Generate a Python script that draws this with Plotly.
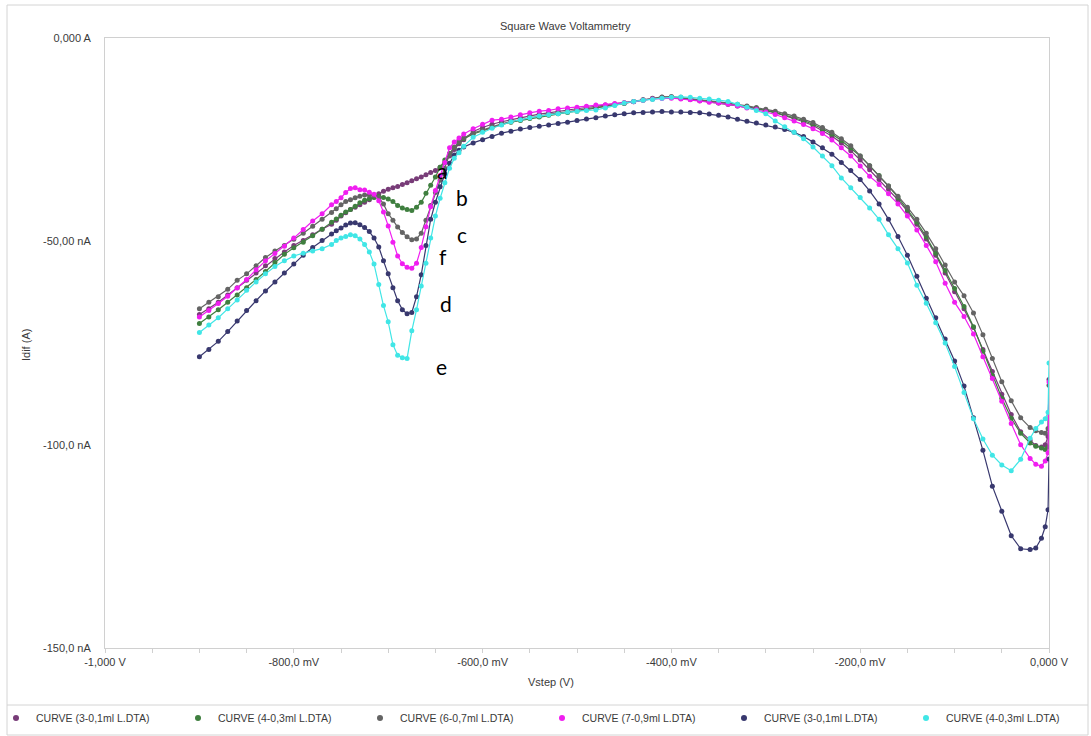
import plotly.graph_objects as go

# Potential steps (mV): coarse on the flanks, finer through the reduction peaks
V_MV = (list(range(-900, -760, 10)) + list(range(-760, -615, 5))
        + list(range(-610, -10, 10)) + [-14, -8, -4, -1, 0])

NAMES = ["CURVE (3-0,1ml L.DTA)", "CURVE (4-0,3ml L.DTA)", "CURVE (6-0,7ml L.DTA)",
         "CURVE (7-0,9ml L.DTA)", "CURVE (3-0,1ml L.DTA)", "CURVE (4-0,3ml L.DTA)"]
COLORS = ["#783c78", "#3f7f3f", "#646464", "#f01ef0", "#38386e", "#40e6e6"]
TAGS = ["a", "b", "c", "f", "d", "e"]

# Differential current (nA) for each curve
I_A = [-68.0, -66.6, -65.0, -63.2, -61.4, -59.6, -57.8, -56.0, -54.2, -52.6, -51.0, -49.8, -48.4, -47.0,
       -45.8, -44.8, -43.8, -43.0, -42.2, -41.6, -41.0, -40.4, -39.8, -39.1,
       -38.3, -37.7, -37.2, -36.8, -36.5, -36.0, -35.6, -35.1, -34.6, -34.2,
       -33.6, -33.1, -32.6, -31.8, -30.6, -29.0, -27.4, -26.0, -25.0,
       -23.0, -22.0, -21.2, -20.6, -20.1, -19.6, -19.1, -18.7, -18.4, -18.0,
       -17.7, -17.4, -17.1, -16.8, -16.5, -16.2, -15.9, -15.6, -15.2, -14.9,
       -14.6, -14.6, -14.8, -15.0, -15.3, -15.6, -15.9, -16.2, -16.5, -16.9,
       -17.3, -17.8, -18.4, -19.1, -19.8, -20.6, -21.5, -22.7, -24.1, -25.8,
       -27.7, -30.0, -32.4, -34.8, -37.2, -39.8, -42.6, -45.8, -49.4, -53.4,
       -57.8, -62.4, -66.6, -71.2, -76.6, -82.0, -87.6, -92.6, -96.8, -99.0,
       -100.2, -100.6, -100.0, -98.0, -84.0]

I_B = [-70.2, -68.6, -66.8, -65.0, -63.2, -61.4, -59.4, -57.4, -55.2, -53.2, -51.6, -50.2, -48.6, -47.0,
       -45.3, -44.5, -43.6, -42.8, -42.2, -41.4, -40.5, -39.9, -39.5, -39.2,
       -39.0, -39.2, -39.6, -40.2, -41.2, -41.8, -42.2, -42.4, -41.6, -40.4,
       -38.2, -36.2, -34.2, -31.8, -30.0, -28.4, -26.9, -25.7, -24.8,
       -23.6, -22.8, -22.0, -21.3, -20.7, -20.3, -19.8, -19.4, -19.0, -18.6,
       -18.3, -18.0, -17.6, -17.2, -16.9, -16.5, -16.1, -15.7, -15.3, -15.0,
       -14.7, -14.6, -14.8, -15.1, -15.4, -15.7, -16.0, -16.3, -16.7, -17.1,
       -17.4, -17.8, -18.3, -18.9, -19.6, -20.3, -21.2, -22.3, -23.6, -25.2,
       -27.0, -29.0, -31.4, -33.8, -36.4, -39.2, -42.2, -45.3, -48.9, -52.9,
       -57.2, -61.6, -66.0, -71.0, -77.0, -83.0, -88.6, -93.5, -97.2, -99.6,
       -100.4, -100.8, -101.2, -100.6, -92.0]

I_C = [-66.6, -65.0, -63.6, -61.8, -59.6, -58.0, -56.0, -54.0, -52.4, -51.0, -49.5, -48.0, -46.3, -44.6,
       -42.9, -42.0, -41.0, -40.2, -39.8, -39.3, -38.9, -38.6, -38.6, -38.8,
       -39.2, -40.8, -43.2, -44.8, -46.5, -47.8, -48.9, -49.6, -49.4, -48.0,
       -44.8, -41.2, -38.0, -35.0, -32.0, -28.6, -26.8, -25.6, -24.6,
       -23.4, -22.6, -21.8, -21.1, -20.6, -20.1, -19.6, -19.2, -18.8, -18.5,
       -18.1, -17.8, -17.4, -17.1, -16.8, -16.4, -16.0, -15.6, -15.2, -14.8,
       -14.5, -14.4, -14.6, -14.9, -15.2, -15.4, -15.7, -16.0, -16.3, -16.7,
       -17.1, -17.5, -18.0, -18.6, -19.2, -20.0, -20.8, -22.0, -23.2, -24.8,
       -26.5, -29.0, -31.4, -34.0, -36.4, -38.9, -41.6, -44.6, -48.0, -51.8,
       -55.8, -60.0, -63.4, -67.6, -73.0, -78.8, -84.5, -89.2, -93.4, -95.8,
       -96.6, -97.0, -97.2, -96.0, -85.4]

I_F = [-68.6, -67.0, -65.3, -63.5, -61.5, -59.4, -57.0, -54.8, -53.0, -51.2, -49.2, -47.1, -45.0, -43.2,
       -41.0, -40.2, -39.3, -38.0, -37.0, -36.8, -37.3, -37.4, -37.9, -38.4,
       -40.0, -42.8, -46.2, -50.2, -53.6, -55.5, -56.4, -56.6, -55.4, -51.5,
       -46.4, -41.5, -37.5, -33.8, -30.6, -27.0, -25.6, -24.6, -23.6,
       -22.3, -21.2, -20.2, -20.0, -19.4, -18.9, -18.4, -18.0, -17.8, -17.4,
       -17.2, -17.0, -16.8, -16.5, -16.4, -16.1, -15.9, -15.7, -15.3, -15.0,
       -14.9, -14.8, -15.0, -15.2, -15.5, -15.8, -16.0, -16.3, -16.7, -17.2,
       -17.6, -18.2, -18.8, -19.6, -20.4, -21.3, -22.3, -23.5, -25.1, -27.0,
       -29.0, -31.5, -34.0, -36.0, -38.3, -40.8, -43.8, -47.2, -51.0, -55.0,
       -60.3, -65.0, -68.5, -72.8, -78.4, -83.7, -89.3, -94.8, -100.0, -103.4,
       -104.8, -105.3, -104.0, -102.0, -84.6]

I_D = [-78.4, -76.6, -74.6, -72.2, -69.6, -67.0, -64.6, -62.2, -60.0, -57.8, -55.6, -53.4, -51.5, -49.8,
       -48.2, -47.4, -46.7, -46.0, -45.5, -45.4, -45.9, -46.6, -47.6, -49.2,
       -51.4, -54.8, -58.0, -61.4, -64.6, -66.8, -67.8, -67.5, -63.6, -58.2,
       -51.0, -44.6, -40.4, -36.6, -33.4, -30.8, -28.8, -27.6, -26.8,
       -25.8, -25.0, -24.2, -23.4, -22.9, -22.4, -22.0, -21.7, -21.4, -21.0,
       -20.7, -20.3, -19.9, -19.6, -19.2, -18.9, -18.6, -18.4, -18.3, -18.2,
       -18.1, -18.2, -18.2, -18.3, -18.4, -18.7, -19.0, -19.4, -20.0, -20.5,
       -20.9, -21.4, -21.9, -22.5, -23.2, -24.2, -25.6, -27.0, -28.6, -30.6,
       -32.6, -34.8, -37.6, -40.8, -44.6, -48.8, -53.4, -58.6, -64.0, -68.8,
       -74.0, -79.4, -85.6, -93.4, -101.4, -110.2, -116.4, -122.4, -125.6, -125.8,
       -125.4, -123.0, -120.2, -116.0, -103.5]

I_E = [-72.4, -70.6, -68.8, -66.6, -64.4, -62.0, -60.0, -58.0, -56.2, -54.8, -53.6, -52.9, -52.4, -51.8,
       -50.8, -49.8, -49.2, -48.8, -48.4, -48.6, -49.4, -50.8, -52.6, -55.6,
       -60.6, -65.8, -69.8, -75.4, -78.0, -78.6, -78.8, -72.0, -66.8, -61.0,
       -55.4, -49.2, -43.8, -39.4, -35.6, -32.0, -29.6, -28.2, -26.6,
       -24.4, -23.2, -22.2, -21.4, -20.6, -20.1, -19.6, -19.2, -18.9, -18.6,
       -18.2, -18.0, -17.8, -17.7, -17.2, -16.6, -16.0, -15.6, -15.3, -15.1,
       -14.8, -14.6, -14.5, -14.6, -14.8, -15.0, -15.3, -15.6, -16.3, -17.0,
       -17.8, -18.6, -20.4, -21.8, -23.2, -24.8, -26.8, -29.0, -31.4, -34.4,
       -36.8, -39.2, -41.8, -44.6, -48.4, -51.8, -55.3, -60.8, -65.2, -70.0,
       -75.0, -80.8, -87.2, -93.6, -98.6, -102.6, -105.0, -106.4, -103.6, -98.4,
       -96.0, -94.4, -93.6, -92.0, -79.9]

CURRENTS = [I_A, I_B, I_C, I_F, I_D, I_E]
for ys in CURRENTS:
    assert len(ys) == len(V_MV)

Y_TICKS = [0, -50, -100, -150]
Y_TICK_TEXT = ["0,000 A", "-50,00 nA", "-100,0 nA", "-150,0 nA"]
X_TICKS = list(range(-1000, 1, 50))
X_LABELS = {-1000: "-1,000 V", -800: "-800,0 mV", -600: "-600,0 mV",
            -400: "-400,0 mV", -200: "-200,0 mV", 0: "0,000 V"}

# plot-area geometry in pixels, used to place frame and captions
W, H = 1091, 736
PL, PR, PT, PB = 105, 1049, 38, 648


def px(xp):
    return (xp - PL) / (PR - PL)


def py(yp):
    return (PB - yp) / (PB - PT)


FONT = "Liberation Sans, Arial, sans-serif"
TXT = "#3a3a3a"

fig = go.Figure()
for name, color, ys in zip(NAMES, COLORS, CURRENTS):
    fig.add_trace(go.Scatter(
        x=V_MV, y=ys, mode="lines+markers",
        line=dict(color=color, width=1.2),
        marker=dict(color=color, size=5),
        showlegend=False, hoverinfo="skip"))
# legend entries show a single dot per curve; split over two legend boxes on one row
for i, (name, color) in enumerate(zip(NAMES, COLORS)):
    fig.add_trace(go.Scatter(
        x=[None], y=[None], mode="markers", name=name,
        legend="legend" if i < 3 else "legend2",
        marker=dict(color=color, size=6)))

# curve tags placed beside the peak region (mV, nA)
tag_pos = {"a": (-643, -32.7), "b": (-622, -39.1), "c": (-622, -48.2),
           "f": (-642, -53.8), "d": (-639, -65.2), "e": (-644, -80.9)}
annotations = []
for t in TAGS:
    xv, yv = tag_pos[t]
    annotations.append(dict(x=xv, y=yv, xref="x", yref="y", text=t, showarrow=False,
                            font=dict(family="Lato, Open Sans, sans-serif", size=21, color="#000")))

annotations += [
    dict(x=px(565), y=py(18), xref="paper", yref="paper", text="Square Wave Voltammetry",
         showarrow=False, font=dict(family=FONT, size=11, color=TXT)),
    dict(x=px(18), y=py(345), xref="paper", yref="paper", text="Idif (A)", textangle=-90,
         showarrow=False, font=dict(family=FONT, size=11, color=TXT)),
    dict(x=px(551), y=py(690), xref="paper", yref="paper", text="Vstep (V)",
         showarrow=False, font=dict(family=FONT, size=11, color=TXT)),
]

shapes = [
    dict(type="rect", xref="paper", yref="paper", x0=px(7), x1=px(1088), y0=py(735), y1=py(5),
         line=dict(color="#d4d4d4", width=1)),
    dict(type="line", xref="paper", yref="paper", x0=px(7), x1=px(1088), y0=py(705), y1=py(705),
         line=dict(color="#d4d4d4", width=1)),
]

legend_style = dict(orientation="h", y=py(718), xanchor="left", yanchor="middle",
                    entrywidth=137, entrywidthmode="pixels", itemwidth=30,
                    font=dict(family=FONT, size=10.5, color=TXT), bgcolor="rgba(0,0,0,0)")

fig.update_layout(
    width=W, height=H,
    margin=dict(l=PL, r=W - PR, t=PT, b=H - PB, autoexpand=False),
    paper_bgcolor="white", plot_bgcolor="white",
    font=dict(family=FONT, size=11, color=TXT),
    showlegend=True,
    legend=dict(x=px(-4), **legend_style),
    legend2=dict(x=px(-4 + 3 * 182), **legend_style),
    annotations=annotations, shapes=shapes,
)
fig.update_xaxes(range=[-1000, 0], showgrid=False, zeroline=False, automargin=False,
                 showline=True, linecolor="#d0d0d0", linewidth=1, mirror=True,
                 tickmode="array", tickvals=X_TICKS,
                 ticktext=[X_LABELS.get(v, "") for v in X_TICKS],
                 ticks="outside", ticklen=4, tickcolor="#d0d0d0",
                 tickfont=dict(family=FONT, size=11, color=TXT))
fig.update_yaxes(range=[-150, 0], showgrid=False, zeroline=False, automargin=False,
                 showline=True, linecolor="#d0d0d0", linewidth=1, mirror=True,
                 tickmode="array", tickvals=Y_TICKS, ticktext=Y_TICK_TEXT,
                 ticks="", ticklabelstandoff=11,
                 tickfont=dict(family=FONT, size=11, color=TXT))

fig.write_html("out.html")
